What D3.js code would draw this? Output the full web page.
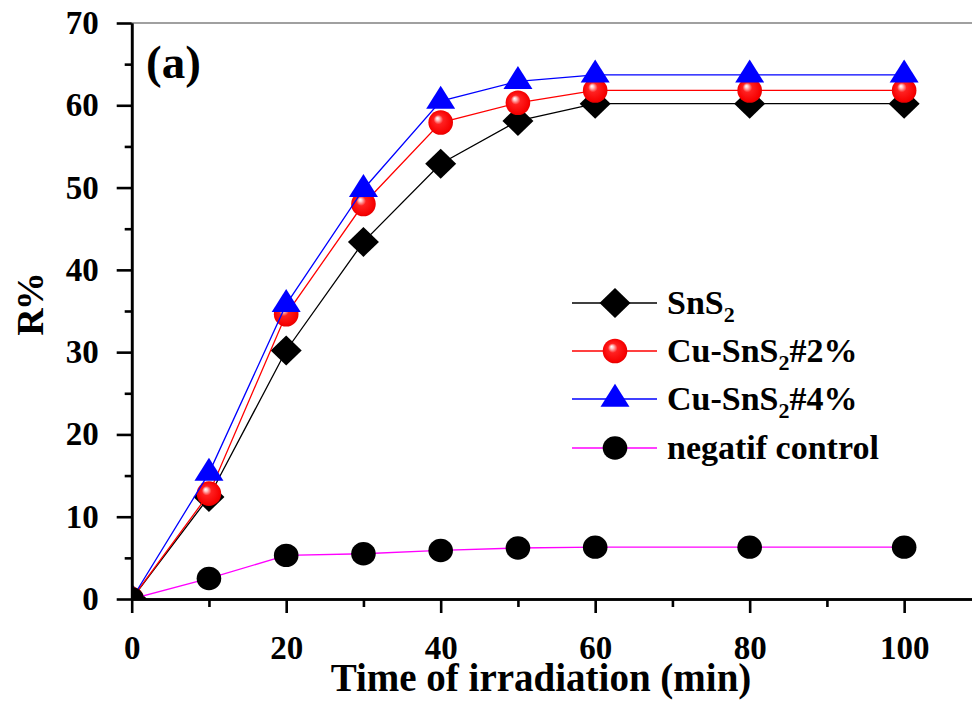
<!DOCTYPE html>
<html>
<head>
<meta charset="utf-8">
<script src="https://cdn.jsdelivr.net/npm/d3@7"></script>
<style>
  html, body { margin: 0; padding: 0; background: #fff; }
  svg { display: block; }
  text { font-family: "Liberation Serif", "Times New Roman", serif; font-weight: bold; fill: #000; }
</style>
</head>
<body>
<svg id="chart" width="972" height="702"></svg>
<script>
// Irradiation time (min)
const times = [0, 10, 20, 30, 40, 50, 60, 80, 100];

// Degradation R% per sample
const sns2      = [0, 12.4, 30.2, 43.4, 52.9, 58.1, 60.2, 60.2, 60.2];
const cuSns2_2  = [0, 12.8, 34.6, 48.0, 57.9, 60.3, 61.8, 61.8, 61.8];
const cuSns2_4  = [0, 15.3, 35.8, 49.8, 60.5, 62.9, 63.7, 63.7, 63.7];
const negative  = [0, 2.5, 5.3, 5.5, 5.9, 6.2, 6.3, 6.3, 6.3];

const xMajorTicks = [0, 20, 40, 60, 80, 100];
const xMinorTicks = [10, 30, 50, 70, 90];
const yMajorTicks = [0, 10, 20, 30, 40, 50, 60, 70];
const yMinorTicks = [5, 15, 25, 35, 45, 55, 65];

const svg = d3.select("#chart");

const x = d3.scaleLinear().domain([0, 110]).range([131.7, 981.4]);
const y = d3.scaleLinear().domain([0, 70]).range([599, 23]);

// gradient for the shaded red spheres
const defs = svg.append("defs");
const grad = defs.append("radialGradient").attr("id", "redBall")
  .attr("cx", "50%").attr("cy", "50%").attr("r", "55%")
  .attr("fx", "36%").attr("fy", "32%");
grad.append("stop").attr("offset", "0%").attr("stop-color", "#ffffff");
grad.append("stop").attr("offset", "12%").attr("stop-color", "#ffc8c8");
grad.append("stop").attr("offset", "35%").attr("stop-color", "#ff2020");
grad.append("stop").attr("offset", "85%").attr("stop-color", "#f60000");
grad.append("stop").attr("offset", "100%").attr("stop-color", "#d00000");

defs.append("clipPath").attr("id", "plotClip")
  .append("rect").attr("x", x(0)).attr("y", y(70))
  .attr("width", 972 - x(0)).attr("height", y(0) - y(70));

// top frame line
svg.append("line")
  .attr("x1", x(0)).attr("x2", 972).attr("y1", y(70)).attr("y2", y(70))
  .attr("stroke", "#808080").attr("stroke-width", 1.5);

// marker shapes
const diamond = "M0,-15 L15.5,0 L0,15 L-15.5,0 Z";
const triangle = "M0,-15.3 L14.5,7.7 L-14.5,7.7 Z";

const series = [
  { name: "SnS2", values: sns2, line: "#000000", marker: "diamond" },
  { name: "Cu-SnS2#2%", values: cuSns2_2, line: "#ff0000", marker: "ball" },
  { name: "Cu-SnS2#4%", values: cuSns2_4, line: "#0000ff", marker: "triangle" },
  { name: "negatif control", values: negative, line: "#ff00ff", marker: "dot" }
];

function drawMarker(g, type, cx, cy) {
  if (type === "diamond") {
    g.append("path").attr("d", diamond).attr("transform", `translate(${cx},${cy})`).attr("fill", "#000");
  } else if (type === "triangle") {
    g.append("path").attr("d", triangle).attr("transform", `translate(${cx},${cy})`).attr("fill", "#0000ff");
  } else if (type === "ball") {
    g.append("circle").attr("cx", cx).attr("cy", cy).attr("r", 12.3).attr("fill", "url(#redBall)");
  } else {
    g.append("ellipse").attr("cx", cx).attr("cy", cy).attr("rx", 12.3).attr("ry", 11.7).attr("fill", "#000");
  }
}

const plot = svg.append("g").attr("clip-path", "url(#plotClip)");
const lineGen = d3.line().x((d, i) => x(times[i])).y(d => y(d));

series.forEach(s => {
  const g = plot.append("g");
  g.append("path").datum(s.values).attr("d", lineGen)
    .attr("fill", "none").attr("stroke", s.line).attr("stroke-width", 1.3);
  s.values.forEach((v, i) => drawMarker(g, s.marker, x(times[i]), y(v)));
});

// axes
const axisFont = 33;
svg.append("g").attr("transform", `translate(0,${y(0)})`)
  .call(d3.axisBottom(x).tickValues(xMajorTicks).tickSize(14).tickSizeOuter(0).tickPadding(23));
svg.append("g").attr("transform", `translate(0,${y(0)})`)
  .call(d3.axisBottom(x).tickValues(xMinorTicks).tickSize(8).tickSizeOuter(0).tickFormat(""));
svg.append("g").attr("transform", `translate(${x(0)},0)`)
  .call(d3.axisLeft(y).tickValues(yMajorTicks).tickSize(15).tickSizeOuter(0).tickPadding(18));
svg.append("g").attr("transform", `translate(${x(0)},0)`)
  .call(d3.axisLeft(y).tickValues(yMinorTicks).tickSize(7).tickSizeOuter(0).tickFormat(""));

svg.selectAll(".domain").attr("stroke", "#000").attr("stroke-width", 2.6);
svg.selectAll(".tick line").attr("stroke", "#000").attr("stroke-width", 2.6);
svg.selectAll(".tick text")
  .attr("font-family", "Liberation Serif, Times New Roman, serif")
  .attr("font-weight", "bold").attr("font-size", axisFont).attr("fill", "#000");

// axis titles
svg.append("text").attr("x", 541).attr("y", 691).attr("text-anchor", "middle")
  .attr("font-size", 39).text("Time of irradiation (min)");
svg.append("text").attr("transform", "translate(43,305) rotate(-90)")
  .attr("text-anchor", "middle").attr("font-size", 38).attr("letter-spacing", -2).text("R%");

// panel label
svg.append("text").attr("x", 146).attr("y", 78).attr("font-size", 47).text("(a)");

// legend
const legendRows = [303, 351, 399, 448];
const legend = svg.append("g");
series.forEach((s, i) => {
  const ry = legendRows[i];
  legend.append("line").attr("x1", 572).attr("x2", 657).attr("y1", ry).attr("y2", ry)
    .attr("stroke", s.line).attr("stroke-width", 1.3);
  drawMarker(legend, s.marker, 615, ry);
  const t = legend.append("text").attr("x", 667).attr("y", ry + 11).attr("font-size", 34);
  if (s.name.includes("SnS2")) {
    const parts = s.name.split("SnS2");
    t.append("tspan").text(parts[0] + "SnS");
    t.append("tspan").attr("font-size", 22).attr("dy", 8).text("2");
    if (parts[1]) t.append("tspan").attr("dy", -8).text(parts[1]);
  } else {
    t.text(s.name);
  }
});
</script>
</body>
</html>
